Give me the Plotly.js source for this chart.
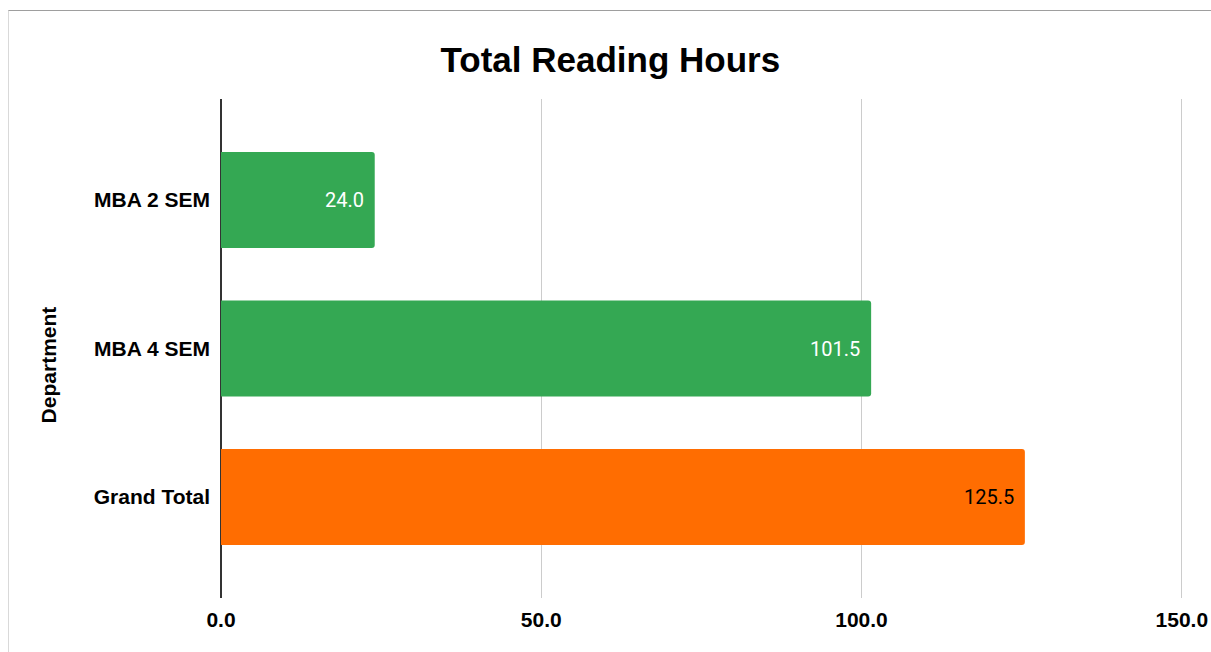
<!DOCTYPE html>
<html>
<head>
<meta charset="utf-8">
<script src="https://cdn.plot.ly/plotly-3.0.1.min.js"></script>
<style>
  html, body { margin: 0; padding: 0; background: #fff; }
  #frame { position: absolute; left: 0; top: 0; width: 1211px; height: 652px; overflow: hidden; }
  #border { position: absolute; left: 8px; top: 10px; width: 1300px; height: 700px;
            border-top: 1px solid #9e9e9e; border-left: 1px solid #d9d9d9; pointer-events: none; }
  #chart { position: absolute; left: 0; top: 0; width: 1211px; height: 652px; }
</style>
</head>
<body>
<div id="frame">
  <div id="chart"></div>
  <div id="border"></div>
</div>
<script>
const categories = ['MBA 2 SEM', 'MBA 4 SEM', 'Grand Total'];
const hours = [24.0, 101.5, 125.5];
const barColors = ['#34a853', '#34a853', '#ff6d01'];
const labelColors = ['#ffffff', '#ffffff', '#000000'];
const tickVals = [0, 50, 100, 150];
const tickText = ['0.0', '50.0', '100.0', '150.0'];

const ARIAL = 'Liberation Sans, Arial, sans-serif';

const trace = {
  type: 'bar',
  orientation: 'h',
  y: categories,
  x: hours,
  width: 0.646,
  marker: { color: barColors, cornerradius: 3, line: { width: 0 } },
  hoverinfo: 'none',
  textposition: 'none'
};

const annotations = categories.map((c, i) => ({
  x: hours[i], y: c, xref: 'x', yref: 'y',
  text: hours[i].toFixed(1),
  showarrow: false, xanchor: 'right', xshift: -9,
  font: { family: 'Roboto, sans-serif', size: 20, color: labelColors[i] }
}));

annotations.push({
  xref: 'paper', yref: 'paper', x: -0.178, y: 0.467,
  xanchor: 'center', yanchor: 'middle', textangle: -90,
  text: '<b>Department</b>', showarrow: false,
  font: { family: ARIAL, size: 21, color: '#000' }
});

const layout = {
  width: 1211, height: 652,
  margin: { l: 221, r: 26, t: 99, b: 54, pad: 0 },
  paper_bgcolor: 'rgba(0,0,0,0)',
  plot_bgcolor: 'rgba(0,0,0,0)',
  showlegend: false,
  title: {
    text: '<b>Total Reading Hours</b>',
    x: 0.504, xanchor: 'center', y: 0.908, yanchor: 'middle',
    font: { family: ARIAL, size: 35, color: '#000' }
  },
  xaxis: {
    range: [0, 150.5],
    tickvals: tickVals, ticktext: tickText,
    showgrid: true, gridcolor: '#cccccc', gridwidth: 1,
    zeroline: true, zerolinecolor: '#333333', zerolinewidth: 1.5,
    showline: false, ticks: '',
    tickfont: { family: ARIAL, size: 21, color: '#000', weight: 'bold' },
    ticklabelstandoff: 7,
    fixedrange: true
  },
  yaxis: {
    type: 'category',
    categoryorder: 'array', categoryarray: categories,
    range: [2.68, -0.68],
    showgrid: false, zeroline: false, showline: false, ticks: '',
    tickfont: { family: ARIAL, size: 21, color: '#000', weight: 'bold' },
    ticklabelstandoff: 10,
    fixedrange: true
  },
  annotations: annotations
};

Plotly.newPlot('chart', [trace], layout, { displayModeBar: false, staticPlot: true });
</script>
</body>
</html>
